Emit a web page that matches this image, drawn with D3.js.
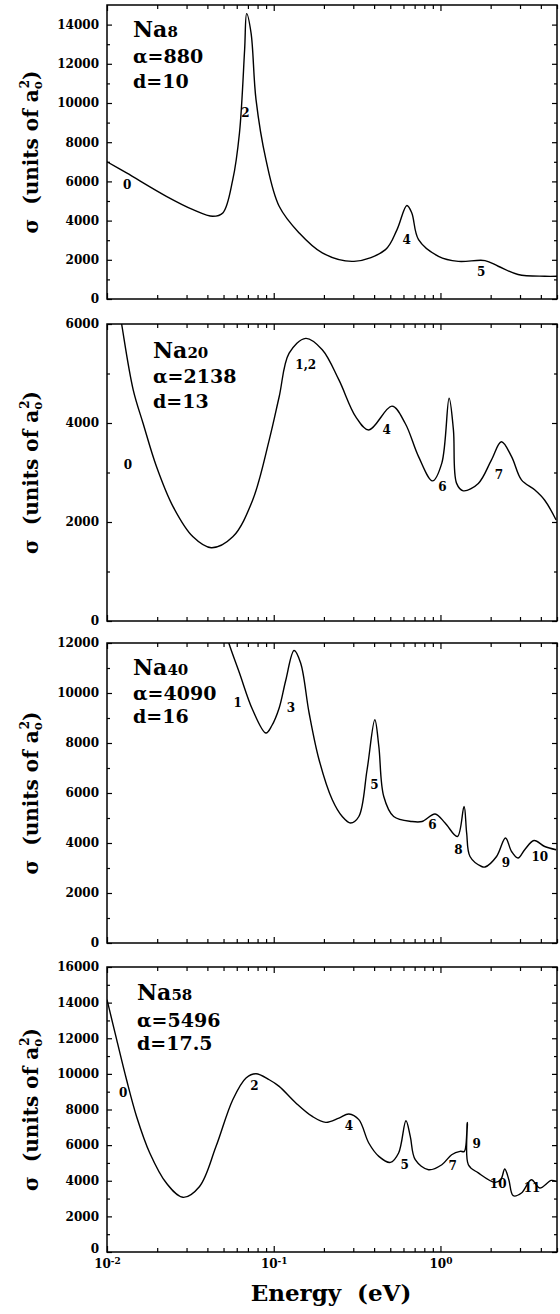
<!DOCTYPE html>
<html>
<head>
<meta charset="utf-8">
<script src="https://cdn.jsdelivr.net/npm/d3@7"></script>
<style>
body { margin: 0; background: #fff; }
svg { display: block; }
text { font-family: "DejaVu Serif", serif; font-weight: bold; fill: #000; }
</style>
</head>
<body>
<svg id="chart" width="560" height="1314"></svg>
<script>
// values (energy in eV, sigma in units of a0^2)
var energyTicks = [0.01, 0.1, 1];
var energyTickExp = ["-2", "-1", "0"];

var na8Energy = [0.01, 0.0131, 0.0227, 0.0328, 0.0431, 0.0495, 0.0568, 0.0623, 0.0669, 0.0688, 0.0731, 0.0783, 0.0898, 0.1078, 0.142, 0.1955, 0.303, 0.468, 0.549, 0.629, 0.673, 0.739, 0.973, 1.28, 1.85, 2.22, 2.92, 4.22, 5.0];
var na8Sigma = [7000, 6430, 5240, 4560, 4220, 4390, 6090, 8470, 12720, 14560, 13580, 10170, 7110, 4730, 3370, 2350, 1920, 2520, 3540, 4770, 4390, 3030, 2180, 1920, 1960, 1670, 1250, 1160, 1160];
var na8Peaks = ["0", "2", "4", "5"];
var na8PeakE = [0.0132, 0.0676, 0.627, 1.757];
var na8PeakS = [5840, 9510, 3030, 1400];

var na20Energy = [0.0105, 0.01224, 0.01436, 0.01647, 0.0198, 0.0249, 0.0328, 0.0422, 0.0568, 0.0747, 0.094, 0.1078, 0.1237, 0.1556, 0.1955, 0.246, 0.31, 0.3715, 0.512, 0.615, 0.739, 0.896, 1.019, 1.127, 1.196, 1.25, 1.37, 1.687, 2.02, 2.32, 2.67, 3.06, 3.67, 4.22, 4.94];
var na20Sigma = [7500, 6000, 4670, 3990, 3120, 2310, 1700, 1480, 1700, 2440, 3660, 4530, 5410, 5710, 5480, 4870, 4130, 3860, 4340, 3990, 3320, 2830, 3190, 4500, 3860, 2780, 2630, 2780, 3250, 3620, 3320, 2850, 2650, 2440, 2040];
var na20Peaks = ["0", "1,2", "4", "6", "7"];
var na20PeakE = [0.01335, 0.1557, 0.476, 1.028, 2.24];
var na20PeakS = [3150, 5170, 3860, 2710, 2950];

var na40Energy = [0.05, 0.0542, 0.0623, 0.0747, 0.0898, 0.0975, 0.1078, 0.118, 0.1325, 0.145, 0.163, 0.187, 0.2245, 0.2576, 0.289, 0.324, 0.363, 0.404, 0.427, 0.457, 0.524, 0.674, 0.776, 0.929, 1.066, 1.263, 1.385, 1.436, 1.504, 1.766, 1.85, 2.17, 2.455, 2.67, 2.92, 3.2, 3.64, 4.22, 4.94];
var na40Sigma = [12700, 11930, 10800, 9330, 8400, 8700, 9400, 10500, 11700, 11200, 9200, 7330, 5730, 5060, 4800, 5060, 6930, 8930, 7860, 5860, 5060, 4860, 4860, 5160, 4800, 4260, 5460, 4400, 3460, 3060, 3040, 3460, 4200, 3660, 3400, 3730, 4100, 3860, 3730];
var na40Peaks = ["1", "3", "5", "6", "8", "9", "10"];
var na40PeakE = [0.0608, 0.1267, 0.402, 0.896, 1.281, 2.466, 3.94];
var na40PeakS = [9600, 9400, 6330, 4730, 3730, 3220, 3440];

var na58Energy = [0.01, 0.01143, 0.0131, 0.01504, 0.01805, 0.0227, 0.02854, 0.0359, 0.0451, 0.0568, 0.0682, 0.0783, 0.094, 0.1078, 0.1357, 0.1704, 0.205, 0.246, 0.2823, 0.324, 0.3715, 0.427, 0.501, 0.561, 0.621, 0.659, 0.706, 0.848, 1.019, 1.167, 1.311, 1.39, 1.449, 1.47, 1.687, 2.12, 2.3, 2.43, 2.57, 2.73, 3.06, 3.51, 3.94, 4.62, 4.94];
var na58Sigma = [14170, 11920, 9670, 7610, 5560, 3870, 3070, 3680, 5930, 8550, 9770, 10010, 9670, 9300, 8370, 7610, 7280, 7520, 7750, 7430, 6120, 5370, 5030, 5560, 7370, 6490, 5180, 4620, 4900, 5460, 5650, 5650, 7280, 4900, 4440, 3910, 4060, 4660, 4060, 3160, 3310, 4060, 3590, 4020, 3960];
var na58Peaks = ["0", "2", "4", "5", "7", "9", "10", "11"];
var na58PeakE = [0.01251, 0.0765, 0.2823, 0.6095, 1.184, 1.647, 2.22, 3.54];
var na58PeakS = [8930, 9300, 7050, 4900, 4850, 6080, 3820, 3590];

var clusterSize = ["8", "20", "40", "58"];
var clusterAlpha = ["880", "2138", "4090", "5496"];
var clusterD = ["10", "13", "16", "17.5"];
var sigmaMax = [15000, 6000, 12000, 16000];
var sigmaStep = [2000, 2000, 2000, 2000];

var series = [
  {e: na8Energy, s: na8Sigma, pl: na8Peaks, pe: na8PeakE, ps: na8PeakS},
  {e: na20Energy, s: na20Sigma, pl: na20Peaks, pe: na20PeakE, ps: na20PeakS},
  {e: na40Energy, s: na40Sigma, pl: na40Peaks, pe: na40PeakE, ps: na40PeakS},
  {e: na58Energy, s: na58Sigma, pl: na58Peaks, pe: na58PeakE, ps: na58PeakS}
];

// layout of the four stacked panels (pixels)
var left = 107, right = 557;
var layout = [
  {top: 5, bottom: 299, lx: 133, ly: [37, 63, 88]},
  {top: 324, bottom: 621, lx: 153, ly: [358, 383, 408]},
  {top: 643, bottom: 943, lx: 133, ly: [675, 700, 723]},
  {top: 967, bottom: 1252, lx: 137, ly: [1000, 1027, 1050]}
];

var svg = d3.select("#chart");

var x = d3.scaleLog().domain([0.01, 5]).range([left, right]);

var xMinor = [];
energyTicks.forEach(function(p) {
  for (var k = 2; k <= 9; k++) if (p * k <= 5) xMinor.push(p * k);
});

function cleanAxis(g) {
  g.select(".domain").remove();
  g.selectAll(".tick line").attr("stroke", "#000").attr("stroke-width", 1.2);
}

series.forEach(function(sr, i) {
  var L = layout[i];
  var last = i === series.length - 1;
  var y = d3.scaleLinear().domain([0, sigmaMax[i]]).range([L.bottom, L.top]);
  var major = d3.range(0, sigmaMax[i] + 1, sigmaStep[i]).filter(function(v) { return v <= sigmaMax[i]; });
  var minor = d3.range(sigmaStep[i] / 2, sigmaMax[i], sigmaStep[i]);
  var g = svg.append("g");

  // y axes, left with labels, right without
  g.append("g").attr("transform", "translate(" + left + ",0)")
    .call(d3.axisLeft(y).tickValues(major).tickSizeInner(-5).tickSizeOuter(0).tickPadding(8).tickFormat(d3.format("d")))
    .call(cleanAxis)
    .call(function(a) {
      a.attr("font-family", null).attr("font-size", null);
      a.selectAll(".tick text").style("font-size", "12px");
      if (last) a.selectAll(".tick text").filter(function(d) { return d === 0; }).attr("y", -3);
    });
  g.append("g").attr("transform", "translate(" + left + ",0)")
    .call(d3.axisLeft(y).tickValues(minor).tickSize(-3).tickFormat(""))
    .call(cleanAxis);
  g.append("g").attr("transform", "translate(" + right + ",0)")
    .call(d3.axisRight(y).tickValues(major).tickSize(-5).tickFormat(""))
    .call(cleanAxis);
  g.append("g").attr("transform", "translate(" + right + ",0)")
    .call(d3.axisRight(y).tickValues(minor).tickSize(-3).tickFormat(""))
    .call(cleanAxis);

  // x axes, top and bottom
  var bottomAxis = g.append("g").attr("transform", "translate(0," + L.bottom + ")")
    .call(d3.axisBottom(x).tickValues(energyTicks).tickSize(-6).tickPadding(10).tickFormat(""))
    .call(cleanAxis);
  g.append("g").attr("transform", "translate(0," + L.bottom + ")")
    .call(d3.axisBottom(x).tickValues(xMinor).tickSize(-4).tickFormat(""))
    .call(cleanAxis);
  g.append("g").attr("transform", "translate(0," + L.top + ")")
    .call(d3.axisTop(x).tickValues(energyTicks).tickSize(-6).tickFormat(""))
    .call(cleanAxis);
  g.append("g").attr("transform", "translate(0," + L.top + ")")
    .call(d3.axisTop(x).tickValues(xMinor).tickSize(-4).tickFormat(""))
    .call(cleanAxis);

  if (last) {
    bottomAxis.attr("font-family", null).attr("font-size", null);
    bottomAxis.selectAll(".tick text").each(function(d, k) {
      var t = d3.select(this).attr("y", 16).attr("dy", null).style("font-size", "12px").text("10");
      t.append("tspan").attr("dy", -4).style("font-size", "9px").text(energyTickExp[k]);
    });
  }

  // frame
  g.append("rect")
    .attr("x", left).attr("y", L.top)
    .attr("width", right - left).attr("height", L.bottom - L.top)
    .attr("fill", "none").attr("stroke", "#000").attr("stroke-width", 1.5);

  // curve
  var clipId = "clip" + i;
  svg.append("clipPath").attr("id", clipId).append("rect")
    .attr("x", left).attr("y", L.top).attr("width", right - left).attr("height", L.bottom - L.top);

  var pts = sr.e.map(function(e, k) { return [e, sr.s[k]]; });
  var line = d3.line()
    .x(function(d) { return x(d[0]); })
    .y(function(d) { return y(d[1]); })
    .curve(d3.curveCatmullRom.alpha(0.5));

  g.append("path").datum(pts)
    .attr("clip-path", "url(#" + clipId + ")")
    .attr("d", line)
    .attr("fill", "none").attr("stroke", "#000").attr("stroke-width", 1.4);

  // peak numbers
  sr.pl.forEach(function(lbl, k) {
    g.append("text")
      .attr("x", x(sr.pe[k])).attr("y", y(sr.ps[k]))
      .attr("text-anchor", "middle").attr("dominant-baseline", "central")
      .style("font-size", "12px").text(lbl);
  });

  // cluster annotation
  var t1 = g.append("text").attr("x", L.lx).attr("y", L.ly[0]).style("font-size", "22px").text("Na");
  t1.append("tspan").style("font-size", "15px").text(clusterSize[i]);
  g.append("text").attr("x", L.lx).attr("y", L.ly[1]).style("font-size", "19px").text("\u03b1=" + clusterAlpha[i]);
  g.append("text").attr("x", L.lx).attr("y", L.ly[2]).style("font-size", "19px").text("d=" + clusterD[i]);

  // y label
  var cy = (L.top + L.bottom) / 2;
  var yl = g.append("text")
    .attr("transform", "translate(38," + cy + ") rotate(-90)")
    .attr("text-anchor", "middle").style("font-size", "20px");
  yl.append("tspan").text("\u03c3\u00a0\u00a0(units of a");
  yl.append("tspan").style("font-size", "12px").attr("dy", 4).text("o");
  yl.append("tspan").style("font-size", "12px").attr("dx", -7).attr("dy", -13).text("2");
  yl.append("tspan").attr("dy", 9).text(")");
});

svg.append("text")
  .attr("x", 331).attr("y", 1301)
  .attr("text-anchor", "middle")
  .style("font-size", "23px")
  .text("Energy\u00a0\u00a0(eV)");
</script>
</body>
</html>
